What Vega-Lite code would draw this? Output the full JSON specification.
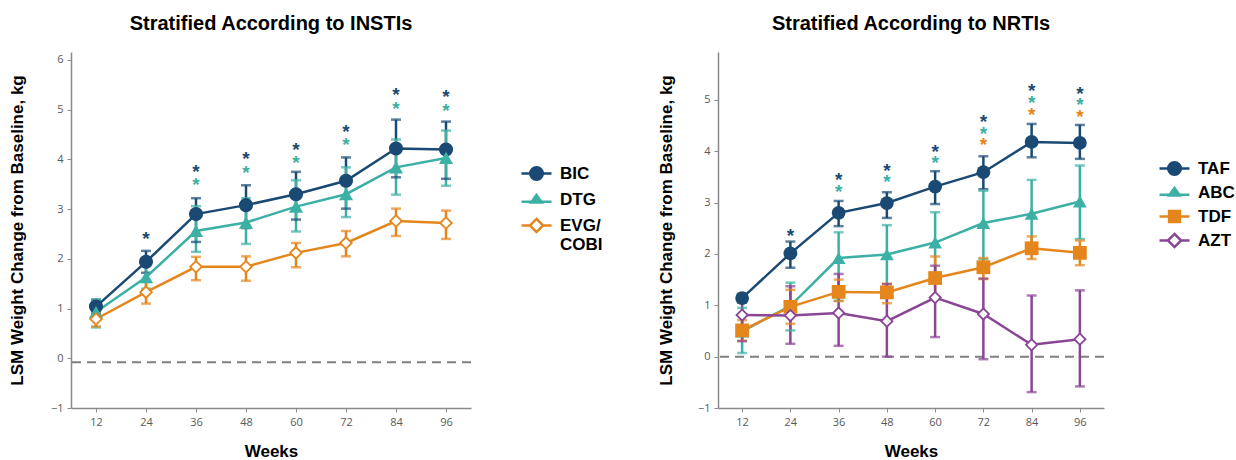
{
  "$schema": "https://vega.github.io/schema/vega-lite/v6.json",
  "padding": {"left": 8, "top": 14, "right": 0, "bottom": 0},
  "background": "white",
  "spacing": 54,
  "resolve": {"scale": {"color": "independent", "shape": "independent", "fill": "independent", "stroke": "independent"}},
  "config": {
    "view": {"stroke": null},
    "axis": {"grid": false, "domainColor": "#8a8a8a", "domainWidth": 1.5, "tickColor": "#8a8a8a", "tickSize": 4, "labelColor": "#595959", "labelFont": "Open Sans", "labelFontSize": 11, "titleFont": "Liberation Sans", "titleFontSize": 17, "titleFontWeight": "bold", "titleColor": "#000000"},
    "title": {"font": "Liberation Sans", "fontSize": 20, "fontWeight": "bold", "color": "#000000"}
  },
  "datasets": {
    "insti": [
      {"week": 12, "series": "BIC", "y": 1.04, "lo": 0.90, "hi": 1.18},
      {"week": 24, "series": "BIC", "y": 1.94, "lo": 1.72, "hi": 2.16},
      {"week": 36, "series": "BIC", "y": 2.90, "lo": 2.34, "hi": 3.22},
      {"week": 48, "series": "BIC", "y": 3.08, "lo": 2.62, "hi": 3.48},
      {"week": 60, "series": "BIC", "y": 3.30, "lo": 2.79, "hi": 3.75},
      {"week": 72, "series": "BIC", "y": 3.57, "lo": 3.01, "hi": 4.04},
      {"week": 84, "series": "BIC", "y": 4.22, "lo": 3.64, "hi": 4.80},
      {"week": 96, "series": "BIC", "y": 4.20, "lo": 3.61, "hi": 4.76},
      {"week": 12, "series": "DTG", "y": 0.93, "lo": 0.62, "hi": 1.18},
      {"week": 24, "series": "DTG", "y": 1.63, "lo": 1.40, "hi": 1.86},
      {"week": 36, "series": "DTG", "y": 2.56, "lo": 2.14, "hi": 3.06},
      {"week": 48, "series": "DTG", "y": 2.73, "lo": 2.30, "hi": 3.22},
      {"week": 60, "series": "DTG", "y": 3.05, "lo": 2.55, "hi": 3.58},
      {"week": 72, "series": "DTG", "y": 3.30, "lo": 2.84, "hi": 3.84},
      {"week": 84, "series": "DTG", "y": 3.84, "lo": 3.29, "hi": 4.40},
      {"week": 96, "series": "DTG", "y": 4.03, "lo": 3.47, "hi": 4.58},
      {"week": 12, "series": "EVG/COBI", "y": 0.79, "lo": 0.64, "hi": 0.94},
      {"week": 24, "series": "EVG/COBI", "y": 1.33, "lo": 1.10, "hi": 1.55},
      {"week": 36, "series": "EVG/COBI", "y": 1.84, "lo": 1.57, "hi": 2.04},
      {"week": 48, "series": "EVG/COBI", "y": 1.84, "lo": 1.56, "hi": 2.05},
      {"week": 60, "series": "EVG/COBI", "y": 2.12, "lo": 1.83, "hi": 2.32},
      {"week": 72, "series": "EVG/COBI", "y": 2.32, "lo": 2.05, "hi": 2.56},
      {"week": 84, "series": "EVG/COBI", "y": 2.76, "lo": 2.46, "hi": 3.01},
      {"week": 96, "series": "EVG/COBI", "y": 2.72, "lo": 2.40, "hi": 2.97}
    ],
    "insti_star": [
      {"week": 24, "series": "BIC", "y": 2.48},
      {"week": 36, "series": "BIC", "y": 3.83},
      {"week": 36, "series": "DTG", "y": 3.56},
      {"week": 48, "series": "BIC", "y": 4.08},
      {"week": 48, "series": "DTG", "y": 3.81},
      {"week": 60, "series": "BIC", "y": 4.27},
      {"week": 60, "series": "DTG", "y": 4.00},
      {"week": 72, "series": "BIC", "y": 4.63},
      {"week": 72, "series": "DTG", "y": 4.37},
      {"week": 84, "series": "BIC", "y": 5.37},
      {"week": 84, "series": "DTG", "y": 5.10},
      {"week": 96, "series": "BIC", "y": 5.33},
      {"week": 96, "series": "DTG", "y": 5.06}
    ],
    "nrti": [
      {"week": 12, "series": "TAF", "y": 1.14, "lo": 1.05, "hi": 1.22},
      {"week": 24, "series": "TAF", "y": 2.01, "lo": 1.73, "hi": 2.24},
      {"week": 36, "series": "TAF", "y": 2.80, "lo": 2.54, "hi": 3.03},
      {"week": 48, "series": "TAF", "y": 2.99, "lo": 2.70, "hi": 3.20},
      {"week": 60, "series": "TAF", "y": 3.31, "lo": 2.97, "hi": 3.61},
      {"week": 72, "series": "TAF", "y": 3.59, "lo": 3.26, "hi": 3.90},
      {"week": 84, "series": "TAF", "y": 4.18, "lo": 3.88, "hi": 4.53},
      {"week": 96, "series": "TAF", "y": 4.16, "lo": 3.85, "hi": 4.51},
      {"week": 12, "series": "ABC", "y": 0.49, "lo": 0.07, "hi": 0.95},
      {"week": 24, "series": "ABC", "y": 0.99, "lo": 0.51, "hi": 1.44},
      {"week": 36, "series": "ABC", "y": 1.92, "lo": 1.09, "hi": 2.42},
      {"week": 48, "series": "ABC", "y": 1.99, "lo": 1.25, "hi": 2.56},
      {"week": 60, "series": "ABC", "y": 2.22, "lo": 1.48, "hi": 2.81},
      {"week": 72, "series": "ABC", "y": 2.60, "lo": 1.90, "hi": 3.23},
      {"week": 84, "series": "ABC", "y": 2.78, "lo": 2.00, "hi": 3.44},
      {"week": 96, "series": "ABC", "y": 3.02, "lo": 2.29, "hi": 3.72},
      {"week": 12, "series": "TDF", "y": 0.51, "lo": 0.31, "hi": 0.71},
      {"week": 24, "series": "TDF", "y": 0.97, "lo": 0.64, "hi": 1.30},
      {"week": 36, "series": "TDF", "y": 1.26, "lo": 1.08, "hi": 1.50},
      {"week": 48, "series": "TDF", "y": 1.25, "lo": 1.04, "hi": 1.42},
      {"week": 60, "series": "TDF", "y": 1.53, "lo": 1.15, "hi": 1.95},
      {"week": 72, "series": "TDF", "y": 1.74, "lo": 1.51, "hi": 1.92},
      {"week": 84, "series": "TDF", "y": 2.11, "lo": 1.90, "hi": 2.34},
      {"week": 96, "series": "TDF", "y": 2.02, "lo": 1.78, "hi": 2.26},
      {"week": 12, "series": "AZT", "y": 0.81, "lo": 0.30, "hi": 1.09},
      {"week": 24, "series": "AZT", "y": 0.80, "lo": 0.25, "hi": 1.37},
      {"week": 36, "series": "AZT", "y": 0.85, "lo": 0.21, "hi": 1.61},
      {"week": 48, "series": "AZT", "y": 0.69, "lo": 0.00, "hi": 1.41},
      {"week": 60, "series": "AZT", "y": 1.15, "lo": 0.38, "hi": 1.77},
      {"week": 72, "series": "AZT", "y": 0.83, "lo": -0.05, "hi": 1.52},
      {"week": 84, "series": "AZT", "y": 0.23, "lo": -0.69, "hi": 1.19},
      {"week": 96, "series": "AZT", "y": 0.34, "lo": -0.58, "hi": 1.29}
    ],
    "nrti_star": [
      {"week": 24, "series": "TAF", "y": 2.43},
      {"week": 36, "series": "TAF", "y": 3.52},
      {"week": 36, "series": "ABC", "y": 3.29},
      {"week": 48, "series": "TAF", "y": 3.70},
      {"week": 48, "series": "ABC", "y": 3.48},
      {"week": 60, "series": "TAF", "y": 4.07},
      {"week": 60, "series": "ABC", "y": 3.85},
      {"week": 72, "series": "TAF", "y": 4.64},
      {"week": 72, "series": "ABC", "y": 4.41},
      {"week": 72, "series": "TDF", "y": 4.19},
      {"week": 84, "series": "TAF", "y": 5.24},
      {"week": 84, "series": "ABC", "y": 5.01},
      {"week": 84, "series": "TDF", "y": 4.79},
      {"week": 96, "series": "TAF", "y": 5.19},
      {"week": 96, "series": "ABC", "y": 4.97},
      {"week": 96, "series": "TDF", "y": 4.74}
    ]
  },
  "hconcat": [
    {
      "title": {"text": "Stratified According to INSTIs", "offset": 18},
      "width": 400,
      "height": 356,
      "encoding": {
        "x": {"field": "week", "type": "ordinal", "scale": {"type": "point", "padding": 0.5}, "axis": {"title": "Weeks", "labelAngle": 0, "titlePadding": 16, "labelPadding": 4}},
        "y": {"type": "quantitative", "scale": {"domain": [-1, 6.16], "nice": false}, "axis": {"title": "LSM Weight Change from Baseline, kg", "values": [-1, 0, 1, 2, 3, 4, 5, 6], "titlePadding": 24, "labelPadding": 4}}
      },
      "layer": [
        {"data": {"values": [{"z": -0.08}]}, "mark": {"type": "rule", "color": "#7f7f7f", "strokeDash": [9, 6], "strokeWidth": 2}, "encoding": {"x": null, "y": {"field": "z", "type": "quantitative"}}},
        {"data": {"name": "insti"}, "mark": {"type": "rule", "strokeWidth": 2.5}, "encoding": {"y": {"field": "lo", "type": "quantitative"}, "y2": {"field": "hi"}, "color": {"field": "series", "type": "nominal", "scale": {"domain": ["BIC", "DTG", "EVG/COBI"], "range": ["#1A4A73", "#3DB0A5", "#E5861C"]}, "legend": null}}},
        {"data": {"name": "insti"}, "mark": {"type": "tick", "thickness": 2.5, "size": 10}, "encoding": {"y": {"field": "lo", "type": "quantitative"}, "color": {"field": "series", "type": "nominal", "legend": null}}},
        {"data": {"name": "insti"}, "mark": {"type": "tick", "thickness": 2.5, "size": 10}, "encoding": {"y": {"field": "hi", "type": "quantitative"}, "color": {"field": "series", "type": "nominal", "legend": null}}},
        {"data": {"name": "insti"}, "mark": {"type": "line", "strokeWidth": 2.5}, "encoding": {"y": {"field": "y", "type": "quantitative"}, "color": {"field": "series", "type": "nominal", "legend": null}}},
        {"data": {"name": "insti"}, "mark": {"type": "point", "filled": true, "opacity": 1, "size": 200}, "encoding": {"y": {"field": "y", "type": "quantitative"}, "color": {"field": "series", "type": "nominal", "legend": null}, "shape": {"field": "series", "type": "nominal", "scale": {"domain": ["BIC", "DTG", "EVG/COBI"], "range": ["circle", "triangle-up", "diamond"]}, "legend": null}}},
        {"data": {"name": "insti"}, "transform": [{"filter": "datum.series == 'EVG/COBI'"}], "mark": {"type": "point", "filled": true, "opacity": 1, "shape": "diamond", "size": 80, "color": "white"}, "encoding": {"y": {"field": "y", "type": "quantitative"}}},
        {"data": {"name": "insti"}, "mark": {"type": "point", "filled": true, "opacity": 0, "strokeWidth": 2.5}, "encoding": {
          "y": {"field": "y", "type": "quantitative"},
          "shape": {"field": "series", "type": "nominal", "scale": {"domain": ["BIC", "DTG", "EVG/COBI"], "range": ["M-1,0H1M0.42,0A0.42,0.42,0,1,1,-0.42,0A0.42,0.42,0,1,1,0.42,0Z", "M-1,0.15H1M0,-0.3L0.36,0.2L-0.36,0.2Z", "M-1,0H-0.44M0.44,0H1M0,-0.44L0.44,0L0,0.44L-0.44,0Z"]}, "legend": {"orient": "none", "legendX": 449, "legendY": 113, "direction": "vertical", "title": null, "labelFont": "Liberation Sans", "labelFontWeight": "bold", "labelFontSize": 17, "labelColor": "#000000", "symbolSize": 900, "symbolStrokeWidth": 2.5, "symbolOpacity": 1, "rowPadding": 8, "clipHeight": 17, "labelOffset": 7, "labelExpr": "datum.label == 'EVG/COBI' ? ['EVG/', 'COBI'] : datum.label"}},
          "fill": {"field": "series", "type": "nominal", "scale": {"domain": ["BIC", "DTG", "EVG/COBI"], "range": ["#1A4A73", "#3DB0A5", "#ffffff"]}, "legend": {"orient": "none", "legendX": 449, "legendY": 113, "direction": "vertical", "title": null, "labelFont": "Liberation Sans", "labelFontWeight": "bold", "labelFontSize": 17, "labelColor": "#000000", "symbolSize": 900, "symbolStrokeWidth": 2.5, "symbolOpacity": 1, "rowPadding": 8, "clipHeight": 17, "labelOffset": 7, "labelExpr": "datum.label == 'EVG/COBI' ? ['EVG/', 'COBI'] : datum.label"}},
          "stroke": {"field": "series", "type": "nominal", "scale": {"domain": ["BIC", "DTG", "EVG/COBI"], "range": ["#1A4A73", "#3DB0A5", "#E5861C"]}, "legend": {"orient": "none", "legendX": 449, "legendY": 113, "direction": "vertical", "title": null, "labelFont": "Liberation Sans", "labelFontWeight": "bold", "labelFontSize": 17, "labelColor": "#000000", "symbolSize": 900, "symbolStrokeWidth": 2.5, "symbolOpacity": 1, "rowPadding": 8, "clipHeight": 17, "labelOffset": 7, "labelExpr": "datum.label == 'EVG/COBI' ? ['EVG/', 'COBI'] : datum.label"}}
        }},
        {"data": {"name": "insti_star"}, "mark": {"type": "text", "text": "*", "fontSize": 19, "fontWeight": "bold", "font": "Liberation Sans", "baseline": "alphabetic", "dy": 10}, "encoding": {"y": {"field": "y", "type": "quantitative"}, "color": {"field": "series", "type": "nominal", "legend": null}}}
      ],
      "resolve": {"scale": {"shape": "independent", "fill": "independent", "stroke": "independent"}}
    },
    {
      "title": {"text": "Stratified According to NRTIs", "offset": 18},
      "width": 386,
      "height": 356,
      "encoding": {
        "x": {"field": "week", "type": "ordinal", "scale": {"type": "point", "padding": 0.5}, "axis": {"title": "Weeks", "labelAngle": 0, "titlePadding": 16, "labelPadding": 4}},
        "y": {"type": "quantitative", "scale": {"domain": [-1, 5.93], "nice": false}, "axis": {"title": "LSM Weight Change from Baseline, kg", "values": [-1, 0, 1, 2, 3, 4, 5], "titlePadding": 22, "labelPadding": 4}}
      },
      "layer": [
        {"data": {"values": [{"z": 0}]}, "mark": {"type": "rule", "color": "#7f7f7f", "strokeDash": [9, 6], "strokeWidth": 2}, "encoding": {"x": null, "y": {"field": "z", "type": "quantitative"}}},
        {"data": {"name": "nrti"}, "mark": {"type": "rule", "strokeWidth": 2.5}, "encoding": {"y": {"field": "lo", "type": "quantitative"}, "y2": {"field": "hi"}, "color": {"field": "series", "type": "nominal", "scale": {"domain": ["TAF", "ABC", "TDF", "AZT"], "range": ["#1A4A73", "#3DB0A5", "#E5861C", "#8A4595"]}, "legend": null}}},
        {"data": {"name": "nrti"}, "mark": {"type": "tick", "thickness": 2.5, "size": 10}, "encoding": {"y": {"field": "lo", "type": "quantitative"}, "color": {"field": "series", "type": "nominal", "legend": null}}},
        {"data": {"name": "nrti"}, "mark": {"type": "tick", "thickness": 2.5, "size": 10}, "encoding": {"y": {"field": "hi", "type": "quantitative"}, "color": {"field": "series", "type": "nominal", "legend": null}}},
        {"data": {"name": "nrti"}, "mark": {"type": "line", "strokeWidth": 2.5}, "encoding": {"y": {"field": "y", "type": "quantitative"}, "color": {"field": "series", "type": "nominal", "legend": null}}},
        {"data": {"name": "nrti"}, "mark": {"type": "point", "filled": true, "opacity": 1, "size": 190}, "encoding": {"y": {"field": "y", "type": "quantitative"}, "color": {"field": "series", "type": "nominal", "legend": null}, "shape": {"field": "series", "type": "nominal", "scale": {"domain": ["TAF", "ABC", "TDF", "AZT"], "range": ["circle", "triangle-up", "square", "diamond"]}, "legend": null}}},
        {"data": {"name": "nrti"}, "transform": [{"filter": "datum.series == 'AZT'"}], "mark": {"type": "point", "filled": true, "opacity": 1, "shape": "diamond", "size": 75, "color": "white"}, "encoding": {"y": {"field": "y", "type": "quantitative"}}},
        {"data": {"name": "nrti"}, "mark": {"type": "point", "filled": true, "opacity": 0, "strokeWidth": 2.5}, "encoding": {
          "y": {"field": "y", "type": "quantitative"},
          "shape": {"field": "series", "type": "nominal", "scale": {"domain": ["TAF", "ABC", "TDF", "AZT"], "range": ["M-1,0H1M0.42,0A0.42,0.42,0,1,1,-0.42,0A0.42,0.42,0,1,1,0.42,0Z", "M-1,0.15H1M0,-0.3L0.36,0.2L-0.36,0.2Z", "M-1,0H1M-0.36,-0.36H0.36V0.36H-0.36Z", "M-1,0H-0.44M0.44,0H1M0,-0.44L0.44,0L0,0.44L-0.44,0Z"]}, "legend": {"orient": "none", "legendX": 440, "legendY": 108, "direction": "vertical", "title": null, "labelFont": "Liberation Sans", "labelFontWeight": "bold", "labelFontSize": 17, "labelColor": "#000000", "symbolSize": 900, "symbolStrokeWidth": 2.5, "symbolOpacity": 1, "rowPadding": 6, "clipHeight": 17, "labelOffset": 7}},
          "fill": {"field": "series", "type": "nominal", "scale": {"domain": ["TAF", "ABC", "TDF", "AZT"], "range": ["#1A4A73", "#3DB0A5", "#E5861C", "#ffffff"]}, "legend": {"orient": "none", "legendX": 440, "legendY": 108, "direction": "vertical", "title": null, "labelFont": "Liberation Sans", "labelFontWeight": "bold", "labelFontSize": 17, "labelColor": "#000000", "symbolSize": 900, "symbolStrokeWidth": 2.5, "symbolOpacity": 1, "rowPadding": 6, "clipHeight": 17, "labelOffset": 7}},
          "stroke": {"field": "series", "type": "nominal", "scale": {"domain": ["TAF", "ABC", "TDF", "AZT"], "range": ["#1A4A73", "#3DB0A5", "#E5861C", "#8A4595"]}, "legend": {"orient": "none", "legendX": 440, "legendY": 108, "direction": "vertical", "title": null, "labelFont": "Liberation Sans", "labelFontWeight": "bold", "labelFontSize": 17, "labelColor": "#000000", "symbolSize": 900, "symbolStrokeWidth": 2.5, "symbolOpacity": 1, "rowPadding": 6, "clipHeight": 17, "labelOffset": 7}}
        }},
        {"data": {"name": "nrti_star"}, "mark": {"type": "text", "text": "*", "fontSize": 19, "fontWeight": "bold", "font": "Liberation Sans", "baseline": "alphabetic", "dy": 10}, "encoding": {"y": {"field": "y", "type": "quantitative"}, "color": {"field": "series", "type": "nominal", "legend": null}}}
      ],
      "resolve": {"scale": {"shape": "independent", "fill": "independent", "stroke": "independent"}}
    }
  ]
}
